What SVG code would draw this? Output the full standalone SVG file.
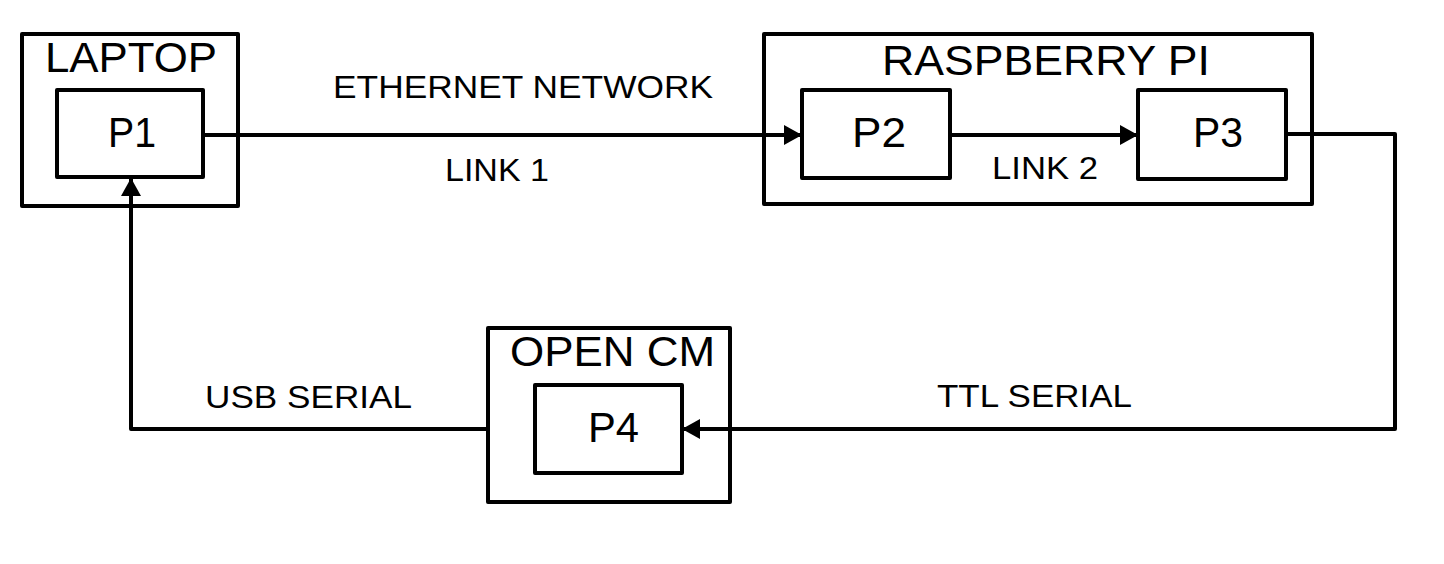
<svg xmlns="http://www.w3.org/2000/svg" width="1444" height="564" viewBox="0 0 1444 564">
<style>
.box{fill:none;stroke:#000;stroke-width:4;stroke-linejoin:round}
.wire{fill:none;stroke:#000;stroke-width:4;stroke-linejoin:round}
.t{font-family:"Liberation Sans",Arial,sans-serif;fill:#000}
.big{font-size:42px}
.lbl{font-size:32px}
</style>
<defs>
<marker id="arr" markerUnits="userSpaceOnUse" markerWidth="20" markerHeight="22" refX="18" refY="10" orient="auto" viewBox="0 0 20 20">
<path d="M0,0 L18,10 L0,20 Z" fill="#000"/>
</marker>
</defs>
<rect width="1444" height="564" fill="#fff"/>
<g id="laptop">
<rect class="box" x="22" y="34" width="216" height="172"/>
<text class="t big" x="45" y="72" textLength="172" lengthAdjust="spacingAndGlyphs">LAPTOP</text>
</g>
<g id="p1">
<rect class="box" x="57" y="90" width="146" height="87"/>
<text class="t big" x="108" y="147" textLength="48" lengthAdjust="spacingAndGlyphs">P1</text>
</g>
<g id="raspberry">
<rect class="box" x="764" y="34" width="548" height="170"/>
<text class="t big" x="882" y="75" textLength="328" lengthAdjust="spacingAndGlyphs">RASPBERRY PI</text>
</g>
<g id="p2">
<rect class="box" x="802" y="90" width="148" height="88"/>
<text class="t big" x="852" y="147" textLength="54" lengthAdjust="spacingAndGlyphs">P2</text>
</g>
<g id="p3">
<rect class="box" x="1138" y="90" width="148" height="89"/>
<text class="t big" x="1193" y="147" textLength="50" lengthAdjust="spacingAndGlyphs">P3</text>
</g>
<g id="opencm">
<rect class="box" x="488" y="328" width="242" height="174"/>
<text class="t big" x="510" y="366" textLength="205" lengthAdjust="spacingAndGlyphs">OPEN CM</text>
</g>
<g id="p4">
<rect class="box" x="535" y="385" width="147" height="88"/>
<text class="t big" x="588" y="442" textLength="51" lengthAdjust="spacingAndGlyphs">P4</text>
</g>
<g id="connectors">
<path class="wire" d="M203,135 L802,135" marker-end="url(#arr)"/>
<path class="wire" d="M950,135 L1138,135" marker-end="url(#arr)"/>
<path class="wire" d="M1286,134 L1395,134 L1395,429 L682,429" marker-end="url(#arr)"/>
<path class="wire" d="M488,429 L131,429 L131,178" marker-end="url(#arr)"/>
</g>
<g id="labels">
<text class="t lbl" x="333" y="98" textLength="380" lengthAdjust="spacingAndGlyphs">ETHERNET NETWORK</text>
<text class="t lbl" x="445" y="181" textLength="104" lengthAdjust="spacingAndGlyphs">LINK 1</text>
<text class="t lbl" x="992" y="179" textLength="106" lengthAdjust="spacingAndGlyphs">LINK 2</text>
<text class="t lbl" x="937" y="407" textLength="195" lengthAdjust="spacingAndGlyphs">TTL SERIAL</text>
<text class="t lbl" x="205" y="408" textLength="207" lengthAdjust="spacingAndGlyphs">USB SERIAL</text>
</g>
</svg>
